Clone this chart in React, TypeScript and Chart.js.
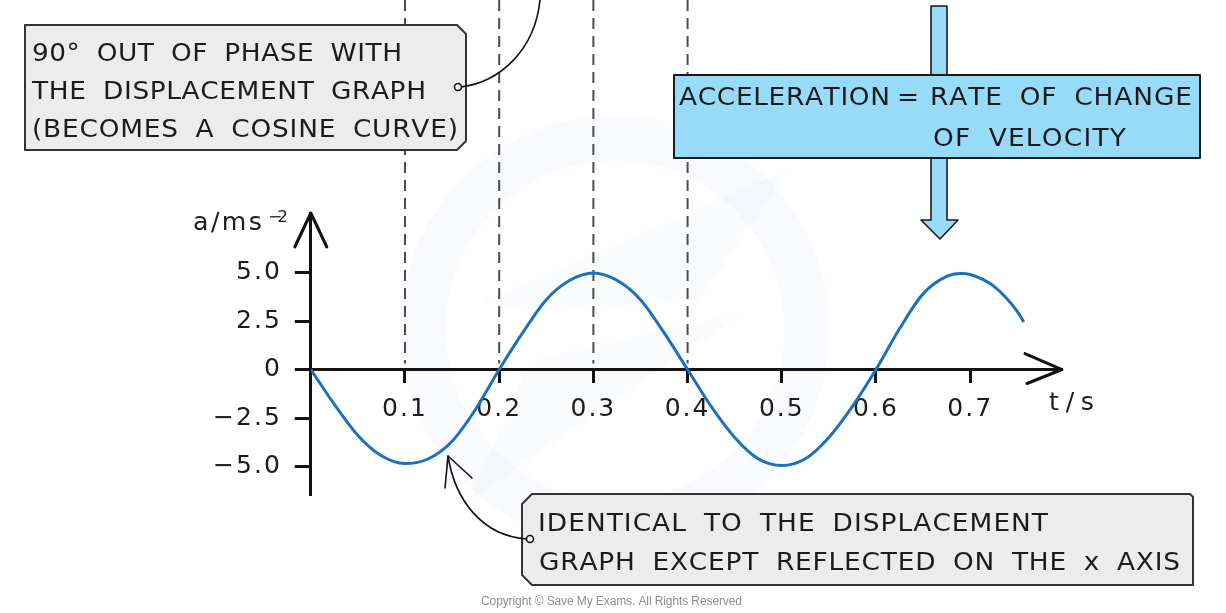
import React, { useEffect, useRef } from 'react';
import { Chart, registerables } from 'chart.js';

Chart.register(...registerables);

// ---- data ----
const timeValues = [0, 0.025, 0.05, 0.075, 0.1, 0.125, 0.15, 0.175, 0.2, 0.225, 0.25, 0.275, 0.3, 0.325, 0.35, 0.375, 0.4, 0.425, 0.45, 0.475, 0.5, 0.525, 0.55, 0.575, 0.6, 0.625, 0.65, 0.675, 0.69, 0.7, 0.725, 0.75, 0.757];
const accelValues = [0, -1.8, -3.4, -4.45, -4.85, -4.6, -3.7, -2.05, 0, 1.9, 3.6, 4.6, 4.98, 4.6, 3.6, 1.9, 0, -1.9, -3.5, -4.6, -4.95, -4.6, -3.5, -1.9, 0, 2.1, 3.9, 4.8, 4.95, 4.9, 4.3, 3.0, 2.45];

const xTickValues = [0.1, 0.2, 0.3, 0.4, 0.5, 0.6, 0.7];
const xTickLabels = ['0.1', '0.2', '0.3', '0.4', '0.5', '0.6', '0.7'];
const yTickValues = [-5, -2.5, 0, 2.5, 5];
const yTickLabels = ['\u22125.0', '\u22122.5', '0', '2.5', '5.0'];
const dashedGuideTimes = [0.1, 0.2, 0.3, 0.4];

const xAxisMin = 0;
const xAxisMax = 0.7975;
const yAxisMin = -6.47;
const yAxisMax = 8.07;

const yAxisTitle = 'a/ms';
const yAxisTitleSup = '\u22122';
const xAxisTitle = 't/s';

const noteTop = ['90\u00B0 OUT OF PHASE WITH', 'THE DISPLACEMENT GRAPH', '(BECOMES A COSINE CURVE)'];
const noteBlueLeft = 'ACCELERATION';
const noteBlueEq = '=';
const noteBlueRight = 'RATE OF CHANGE';
const noteBlueLine2 = 'OF VELOCITY';
const noteBottom = ['IDENTICAL TO THE DISPLACEMENT', 'GRAPH EXCEPT REFLECTED ON THE x AXIS'];
const copyright = 'Copyright \u00A9 Save My Exams. All Rights Reserved';

const FONT = '"DejaVu Sans", "Liberation Sans", sans-serif';
const INK = '#1c1c1c';
const CURVE = '#1a72bf';
const BLUE = '#98dbf9';
const GREY = '#ececec';

function fitText(
  ctx: CanvasRenderingContext2D,
  text: string,
  x: number,
  y: number,
  right: number,
  font: string,
  sx = 1.1,
  spaceMul = 1.9
) {
  ctx.save();
  ctx.font = font;
  (ctx as any).letterSpacing = '0px';
  ctx.textAlign = 'left';
  ctx.textBaseline = 'alphabetic';
  const chars = Array.from(text);
  const widths = chars.map((c) => ctx.measureText(c).width * sx * (c === ' ' ? spaceMul : 1));
  const total = widths.reduce((a, b) => a + b, 0);
  const extra = chars.length > 1 ? (right - x - total) / (chars.length - 1) : 0;
  let cx = x;
  chars.forEach((c, i) => {
    if (c !== ' ') {
      ctx.save();
      ctx.translate(cx, y);
      ctx.scale(sx, 1);
      ctx.fillText(c, 0, 0);
      ctx.restore();
    }
    cx += widths[i] + extra;
  });
  ctx.restore();
}

const decorPlugin = {
  id: 'decor',
  beforeDraw(chart: any) {
    const ctx: CanvasRenderingContext2D = chart.ctx;
    ctx.save();
    // faint watermark
    ctx.strokeStyle = 'rgba(200,220,240,0.13)';
    ctx.lineWidth = 45;
    ctx.beginPath();
    ctx.arc(615, 330, 192, 0, Math.PI * 2);
    ctx.stroke();
    ctx.fillStyle = 'rgba(200,215,235,0.11)';
    ctx.beginPath();
    ctx.moveTo(478, 303);
    ctx.lineTo(790, 168);
    ctx.lineTo(700, 300);
    ctx.lineTo(560, 310);
    ctx.closePath();
    ctx.fill();
    ctx.beginPath();
    ctx.moveTo(745, 312);
    ctx.lineTo(470, 500);
    ctx.lineTo(530, 360);
    ctx.lineTo(660, 330);
    ctx.closePath();
    ctx.fill();
    ctx.restore();
    (ctx as any).letterSpacing = '2px';
  },
  beforeDatasetsDraw(chart: any) {
    const ctx: CanvasRenderingContext2D = chart.ctx;
    const { x, y } = chart.scales;
    ctx.save();
    ctx.setLineDash([11, 7]);
    ctx.strokeStyle = '#4d4d4d';
    ctx.lineWidth = 2;
    const yEnd = y.getPixelForValue(0) - 6;
    dashedGuideTimes.forEach((t) => {
      const px = x.getPixelForValue(t);
      ctx.beginPath();
      ctx.moveTo(px, 0);
      ctx.lineTo(px, yEnd);
      ctx.stroke();
    });
    ctx.restore();
  },
  afterDraw(chart: any) {
    const ctx: CanvasRenderingContext2D = chart.ctx;
    const { x, y } = chart.scales;
    const area = chart.chartArea;
    ctx.save();
    (ctx as any).letterSpacing = '0px';
    ctx.lineCap = 'round';
    ctx.lineJoin = 'round';

    // axis arrowheads
    const ox = x.getPixelForValue(0);
    const oy = y.getPixelForValue(0);
    ctx.strokeStyle = '#111';
    ctx.lineWidth = 3;
    ctx.beginPath();
    ctx.moveTo(ox - 16, area.top + 34);
    ctx.lineTo(ox, area.top);
    ctx.lineTo(ox + 16, area.top + 34);
    ctx.stroke();
    ctx.beginPath();
    ctx.moveTo(area.right - 37, oy - 16);
    ctx.lineTo(area.right, oy);
    ctx.lineTo(area.right - 35, oy + 14);
    ctx.stroke();

    // axis titles
    ctx.fillStyle = INK;
    fitText(ctx, yAxisTitle, 193, 230, 262, `24px ${FONT}`, 1.05, 1);
    fitText(ctx, yAxisTitleSup, 268, 222, 288, `16px ${FONT}`, 1.05, 1);
    fitText(ctx, xAxisTitle, 1049, 410, 1094, `24px ${FONT}`, 1.05, 1);

    // blue arrow (behind the blue box)
    ctx.fillStyle = BLUE;
    ctx.strokeStyle = '#1a1a1a';
    ctx.lineWidth = 1.6;
    ctx.beginPath();
    ctx.moveTo(931, 6);
    ctx.lineTo(947, 6);
    ctx.lineTo(947, 220);
    ctx.lineTo(958, 220);
    ctx.lineTo(940, 239);
    ctx.lineTo(921, 220);
    ctx.lineTo(931, 220);
    ctx.closePath();
    ctx.fill();
    ctx.stroke();

    // blue box
    ctx.lineWidth = 2;
    ctx.beginPath();
    ctx.rect(674, 75, 526, 83);
    ctx.fill();
    ctx.stroke();
    ctx.fillStyle = INK;
    fitText(ctx, noteBlueLeft, 679, 105, 890, `24px ${FONT}`);
    fitText(ctx, noteBlueEq, 897, 105, 920, `24px ${FONT}`);
    fitText(ctx, noteBlueRight, 930, 105, 1192, `24px ${FONT}`);
    fitText(ctx, noteBlueLine2, 933, 146, 1126, `24px ${FONT}`);

    // top grey box
    ctx.fillStyle = GREY;
    ctx.strokeStyle = '#333';
    ctx.lineWidth = 2;
    ctx.beginPath();
    ctx.moveTo(25, 25);
    ctx.lineTo(457, 25);
    ctx.lineTo(466, 34);
    ctx.lineTo(466, 141);
    ctx.lineTo(457, 150);
    ctx.lineTo(25, 150);
    ctx.closePath();
    ctx.fill();
    ctx.stroke();
    ctx.fillStyle = INK;
    fitText(ctx, noteTop[0], 32, 61, 402, `24px ${FONT}`);
    fitText(ctx, noteTop[1], 32, 99, 426, `24px ${FONT}`);
    fitText(ctx, noteTop[2], 32, 137, 458, `24px ${FONT}`);

    // top connector
    ctx.strokeStyle = '#111';
    ctx.lineWidth = 1.6;
    ctx.beginPath();
    ctx.moveTo(461, 87);
    ctx.bezierCurveTo(500, 82, 535, 50, 540, 0);
    ctx.stroke();
    ctx.fillStyle = '#fff';
    ctx.beginPath();
    ctx.arc(458, 87, 3.5, 0, Math.PI * 2);
    ctx.fill();
    ctx.stroke();

    // bottom grey box
    ctx.fillStyle = GREY;
    ctx.strokeStyle = '#333';
    ctx.lineWidth = 2;
    ctx.beginPath();
    ctx.moveTo(532, 494);
    ctx.lineTo(1190, 494);
    ctx.lineTo(1193, 497);
    ctx.lineTo(1193, 585);
    ctx.lineTo(532, 585);
    ctx.lineTo(522, 575);
    ctx.lineTo(522, 504);
    ctx.closePath();
    ctx.fill();
    ctx.stroke();
    ctx.fillStyle = INK;
    fitText(ctx, noteBottom[0], 538, 531, 1048, `24px ${FONT}`);
    fitText(ctx, noteBottom[1], 539, 570, 1180, `24px ${FONT}`);

    // bottom connector
    ctx.strokeStyle = '#111';
    ctx.lineWidth = 1.6;
    ctx.beginPath();
    ctx.moveTo(527, 539);
    ctx.bezierCurveTo(482, 536, 455, 500, 448, 456);
    ctx.stroke();
    ctx.beginPath();
    ctx.moveTo(445, 488);
    ctx.lineTo(448, 456);
    ctx.lineTo(472, 478);
    ctx.stroke();
    ctx.fillStyle = '#fff';
    ctx.beginPath();
    ctx.arc(530, 539, 3.5, 0, Math.PI * 2);
    ctx.fill();
    ctx.stroke();

    // copyright
    ctx.fillStyle = '#8e8e8e';
    fitText(ctx, copyright, 481, 605, 742, `12px "Liberation Sans Narrow", "Liberation Sans", sans-serif`, 1, 1);
    ctx.restore();
  },
};

export default function App() {
  const ref = useRef<HTMLCanvasElement>(null);
  useEffect(() => {
    if (!ref.current) return;
    Chart.defaults.font.family = FONT;
    const chart = new Chart(ref.current, {
      type: 'line',
      data: {
        datasets: [
          {
            label: 'acceleration',
            data: timeValues.map((t, i) => ({ x: t, y: accelValues[i] })),
            borderColor: CURVE,
            borderWidth: 3,
            pointRadius: 0,
            fill: false,
            cubicInterpolationMode: 'monotone',
          },
        ],
      },
      options: {
        animation: false,
        responsive: false,
        devicePixelRatio: 1,
        layout: { padding: { left: 210.8, top: 213, right: 164, bottom: 118 } },
        plugins: { legend: { display: false }, tooltip: { enabled: false } },
        scales: {
          x: {
            type: 'linear',
            min: xAxisMin,
            max: xAxisMax,
            position: { y: 0 },
            afterBuildTicks: (s: any) => {
              s.ticks = xTickValues.map((v) => ({ value: v }));
            },
            ticks: {
              autoSkip: false,
              maxRotation: 0,
              padding: 13,
              color: INK,
              font: { size: 25, family: FONT },
              callback: (v: any) => xTickLabels[xTickValues.indexOf(Number(v))] ?? '',
            },
            grid: { drawOnChartArea: false, drawTicks: true, tickLength: 12, tickWidth: 3, tickColor: '#111' },
            border: { display: true, color: '#111', width: 3 },
          },
          y: {
            type: 'linear',
            min: yAxisMin,
            max: yAxisMax,
            position: 'left',
            afterFit: (s: any) => {
              s.width = 100;
            },
            afterBuildTicks: (s: any) => {
              s.ticks = yTickValues.map((v) => ({ value: v }));
            },
            ticks: {
              padding: 13,
              color: INK,
              font: { size: 25, family: FONT },
              callback: (v: any) => yTickLabels[yTickValues.indexOf(Number(v))] ?? '',
            },
            grid: { drawOnChartArea: false, drawTicks: true, tickLength: 16, tickWidth: 3, tickColor: '#111' },
            border: { display: true, color: '#111', width: 3 },
          },
        },
      },
      plugins: [decorPlugin],
    } as any);
    return () => chart.destroy();
  }, []);
  return (
    <div style={{ position: 'fixed', left: 0, top: 0, width: 1226, height: 613, background: '#fff' }}>
      <canvas ref={ref} width={1226} height={613} style={{ display: 'block', width: 1226, height: 613 }} />
    </div>
  );
}
